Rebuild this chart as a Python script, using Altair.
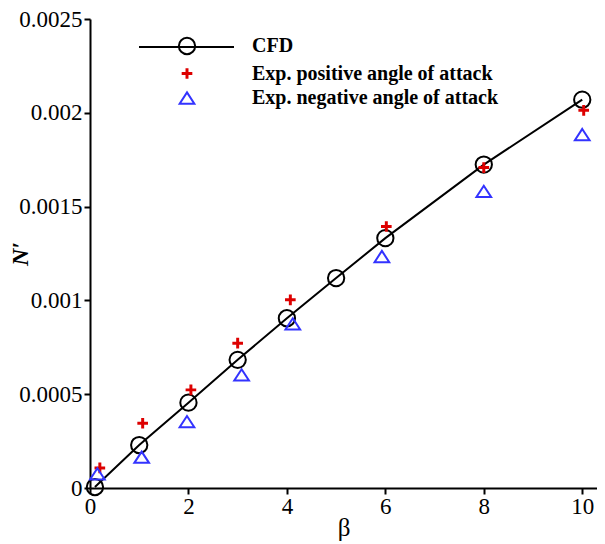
import altair as alt
import pandas as pd

# ---- data ----
series_names = ["CFD", "Exp. positive angle of attack", "Exp. negative angle of attack"]

beta_cfd = [0.1, 1, 2, 3, 4, 5, 6, 8, 10]
n_cfd = [0.000005, 0.000229, 0.000455, 0.000683, 0.000905, 0.001119, 0.001332, 0.001724, 0.00207]

beta_pos = [0.2, 1.07, 2.05, 3.0, 4.07, 6.02, 8.0, 10.03]
n_pos = [0.000107, 0.000345, 0.000523, 0.000772, 0.001003, 0.001394, 0.001708, 0.002013]

beta_neg = [0.15, 1.05, 1.97, 3.08, 4.12, 5.93, 8.0, 10.0]
n_neg = [0.000075, 0.000164, 0.000354, 0.000603, 0.000875, 0.001234, 0.001581, 0.001884]

x_ticks = [0, 2, 4, 6, 8, 10]
y_ticks = [0, 0.0005, 0.001, 0.0015, 0.002, 0.0025]

colors = ["#000000", "#dd0000", "#3333ff"]
plus_path = ("M-0.53,-0.06L0.53,-0.06L0.53,0.06L-0.53,0.06Z "
             "M-0.06,-0.53L0.06,-0.53L0.06,0.53L-0.06,0.53Z")
tri_path = "M0,-0.69L0.9,0.69L-0.9,0.69Z"
shapes = ["circle", plus_path, tri_path]

# ---- tables ----
df_line = pd.DataFrame({"beta": beta_cfd, "N": n_cfd, "series": "CFD"})
df_pts = pd.concat([
    pd.DataFrame({"beta": beta_cfd, "N": n_cfd, "series": series_names[0]}),
    pd.DataFrame({"beta": beta_pos, "N": n_pos, "series": series_names[1]}),
    pd.DataFrame({"beta": beta_neg, "N": n_neg, "series": series_names[2]}),
], ignore_index=True)

FONT = "Liberation Serif"

x_enc = alt.X("beta:Q",
              scale=alt.Scale(domain=[0, 10.3], nice=False, zero=False),
              axis=alt.Axis(values=x_ticks, title="β", titleFont=FONT, titleFontSize=25,
                            titleFontWeight="normal", titleColor="black",
                            titleY=47, titleBaseline="alphabetic",
                            labelFont=FONT, labelFontSize=23, labelColor="black",
                            labelFlush=False, labelPadding=1))
y_enc = alt.Y("N:Q",
              scale=alt.Scale(domain=[0, 0.0025], nice=False),
              axis=alt.Axis(values=y_ticks, format="~f", title="N′",
                            titleFont=FONT, titleFontSize=24, titleFontStyle="italic",
                            titleFontWeight="bold", titleColor="black",
                            titleX=-70, titleY=234.5, titleAlign="center",
                            titleBaseline="middle", titleAngle=270,
                            labelFont=FONT, labelFontSize=23, labelColor="black",
                            labelFlush=False, labelPadding=2))

line_legend = alt.Legend(orient="none", legendX=48, legendY=-20.5, title=None,
                         symbolType="stroke", symbolSize=9025, symbolStrokeWidth=2,
                         labelExpr="''", padding=0)

line = alt.Chart(df_line).mark_line(strokeWidth=2).encode(
    x=x_enc, y=y_enc,
    stroke=alt.Stroke("series:N", scale=alt.Scale(domain=["CFD"], range=["#000000"]),
                      legend=line_legend),
)

pt_legend = alt.Legend(orient="none", legendX=87, legendY=17, title=None,
                       labelFont=FONT, labelFontSize=20, labelFontWeight="bold",
                       labelColor="black", labelOffset=55, labelLimit=500,
                       rowPadding=4.5, symbolStrokeWidth=2, symbolSize=266, padding=0)

points = alt.Chart(df_pts).mark_point(filled=False, strokeWidth=2, opacity=1, size=266).encode(
    x=x_enc, y=y_enc,
    color=alt.Color("series:N", scale=alt.Scale(domain=series_names, range=colors),
                    legend=pt_legend, sort=series_names),
    shape=alt.Shape("series:N", scale=alt.Scale(domain=series_names, range=shapes),
                    legend=pt_legend, sort=series_names),
)

chart = alt.layer(line, points).properties(
    width=507, height=469,
    padding={"left": 82, "top": 11, "right": 0, "bottom": 56},
    autosize=alt.AutoSizeParams(type="none"),
).configure_view(stroke=None).configure_axis(
    grid=False, domainColor="black", domainWidth=2, tickColor="black",
    tickWidth=2, tickSize=6,
)

chart.save("out.html", embed_options={"renderer": "svg", "actions": False})
